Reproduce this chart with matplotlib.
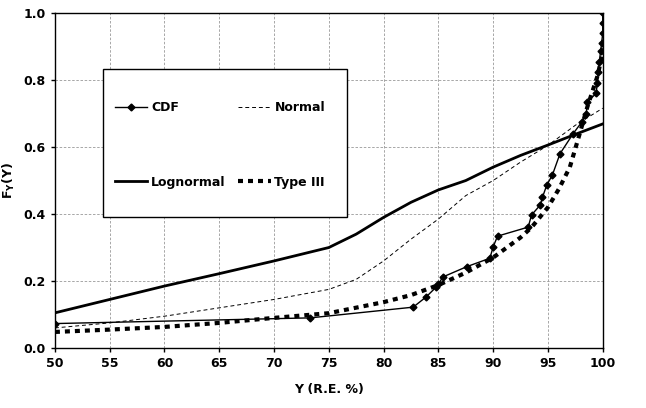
import numpy as np
import matplotlib.pyplot as plt
from matplotlib.patches import Rectangle

# empirical CDF points
cdf_x = [50.0, 73.3, 82.7, 83.9, 84.8, 85.0, 85.4, 87.6, 89.7, 90.0, 90.4, 93.2, 93.5, 94.3,
         94.5, 94.9, 95.4, 96.1, 97.3, 98.1, 98.5, 98.6, 99.4, 99.5, 99.6, 99.7, 99.8,
         99.9, 100.0, 100.0, 100.0]
cdf_y = [0.073, 0.090, 0.122, 0.153, 0.182, 0.190, 0.212, 0.243, 0.268, 0.302, 0.334, 0.361,
         0.397, 0.427, 0.450, 0.487, 0.516, 0.580, 0.640, 0.675, 0.700, 0.735, 0.760, 0.790,
         0.824, 0.855, 0.886, 0.910, 0.940, 0.970, 1.000]

fit_x = [50, 55, 60, 65, 70, 75, 77.5, 80, 82.5, 85, 87.5, 90, 92.5, 95, 97.5, 100]
normal_y = [0.060, 0.075, 0.095, 0.120, 0.145, 0.175, 0.205, 0.260, 0.325, 0.385, 0.455,
            0.500, 0.555, 0.605, 0.665, 0.716]
lognormal_y = [0.105, 0.145, 0.185, 0.222, 0.260, 0.300, 0.340, 0.390, 0.435, 0.472, 0.500,
               0.540, 0.575, 0.606, 0.638, 0.669]

type3_x = [50, 55, 60, 65, 70, 75, 80, 82.5, 85, 87.5, 90, 92.5, 93.5, 95, 96, 97, 97.9,
           98.6, 99, 99.5, 100]
type3_y = [0.048, 0.055, 0.063, 0.075, 0.090, 0.104, 0.137, 0.158, 0.188, 0.225, 0.270,
           0.330, 0.360, 0.420, 0.475, 0.540, 0.640, 0.720, 0.760, 0.810, 0.880]

plt.rcParams['font.family'] = 'DejaVu Sans'
plt.rcParams['font.weight'] = 'bold'

fig = plt.figure(figsize=(6.46, 4.08), dpi=100)
ax = fig.add_axes([0.085, 0.147, 0.848, 0.821])

h_cdf, = ax.plot(cdf_x, cdf_y, 'k-', marker='D', markersize=3.5, linewidth=1.0, label='CDF')
h_norm, = ax.plot(fit_x, normal_y, 'k--', linewidth=0.7, dashes=(4, 3), label='Normal')
h_logn, = ax.plot(fit_x, lognormal_y, 'k-', linewidth=2.0, label='Lognormal')
h_t3, = ax.plot(type3_x, type3_y, 'k--', linewidth=3.0, dashes=(1.2, 1.2), label='Type III')

ax.set_xlim(50, 100)
ax.set_ylim(0, 1.0)
ax.set_xticks(np.arange(50, 101, 5))
ax.set_yticks(np.arange(0, 1.01, 0.2))
ax.set_yticklabels(['%.1f' % v for v in np.arange(0, 1.01, 0.2)])
ax.tick_params(labelsize=9, length=3, width=1)
ax.grid(True, color='#999999', linestyle=(0, (3, 2)), linewidth=0.6)
for s in ax.spines.values():
    s.set_linewidth(1.0)

ax.set_xlabel('Y (R.E. %)', fontsize=9, fontweight='bold', labelpad=9)
ax.set_ylabel(r'F$_\mathregular{Y}$(Y)', fontsize=9, fontweight='bold', labelpad=5)

# legend box
ax.add_patch(Rectangle((0.0876, 0.391), 0.445, 0.442, transform=ax.transAxes,
                       facecolor='white', edgecolor='black', linewidth=1.0, zorder=4))
leg = ax.legend([h_cdf, h_logn, h_norm, h_t3], ['CDF', 'Lognormal', 'Normal', 'Type III'],
                ncol=2, loc='upper left', bbox_to_anchor=(0.1095, 0.736),
                frameon=False, borderpad=0, borderaxespad=0,
                handlelength=2.6, handletextpad=0.3, columnspacing=1.0,
                labelspacing=4.9, prop={'weight': 'bold', 'size': 9})
leg.set_zorder(5)

fig.savefig('out.png', dpi=100)
